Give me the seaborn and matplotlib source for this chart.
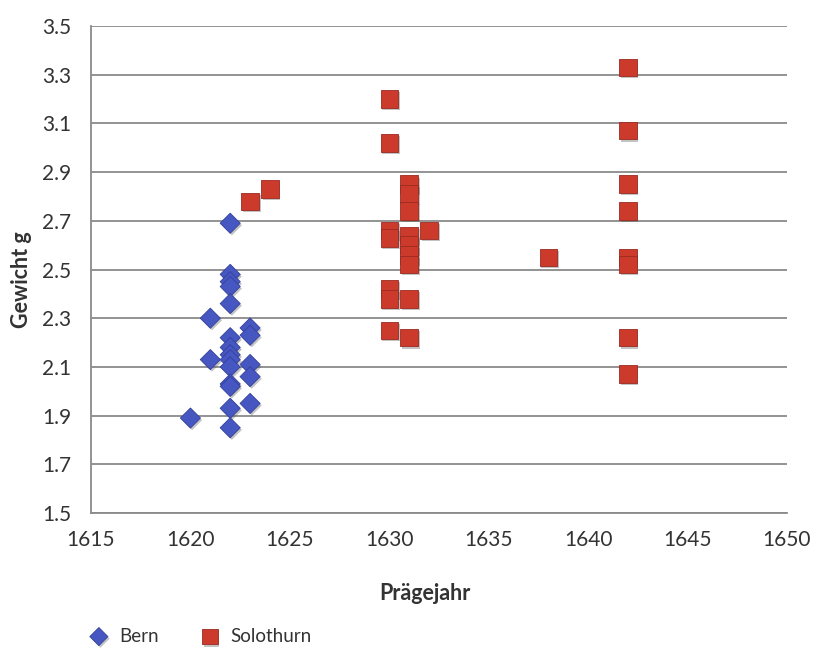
import matplotlib
matplotlib.use("Agg")
import matplotlib.pyplot as plt
import matplotlib.patheffects as pe
import seaborn as sns
import pandas as pd

# ---- data ----
bern_years = [1620, 1621, 1621,
              1622, 1622, 1622, 1622, 1622, 1622, 1622, 1622, 1622, 1622, 1622, 1622, 1622, 1622,
              1623, 1623, 1623, 1623, 1623]
bern_weights = [1.89, 2.30, 2.13,
                2.69, 2.48, 2.45, 2.43, 2.36, 2.22, 2.18, 2.15, 2.13, 2.10, 2.03, 2.02, 1.93, 1.85,
                2.26, 2.23, 2.11, 2.06, 1.95]

solo_years = [1623, 1624,
              1630, 1630, 1630, 1630, 1630, 1630, 1630,
              1631, 1631, 1631, 1631, 1631, 1631, 1631, 1631, 1631,
              1632, 1638,
              1642, 1642, 1642, 1642, 1642, 1642, 1642, 1642]
solo_weights = [2.78, 2.83,
                3.20, 3.02, 2.66, 2.63, 2.42, 2.38, 2.25,
                2.85, 2.81, 2.74, 2.64, 2.60, 2.56, 2.52, 2.38, 2.22,
                2.66, 2.55,
                3.33, 3.07, 2.85, 2.74, 2.55, 2.52, 2.22, 2.07]

series_names = ["Bern", "Solothurn"]
x_ticks = [1615, 1620, 1625, 1630, 1635, 1640, 1645, 1650]
y_ticks = [1.5, 1.7, 1.9, 2.1, 2.3, 2.5, 2.7, 2.9, 3.1, 3.3, 3.5]

df = pd.DataFrame({
    "Prägejahr": bern_years + solo_years,
    "Gewicht": bern_weights + solo_weights,
    "Ort": [series_names[0]] * len(bern_years) + [series_names[1]] * len(solo_years),
})

sns.set_theme(style="white")
plt.rcParams["font.family"] = ["Lato", "DejaVu Sans"]

fig = plt.figure(figsize=(8.13, 6.48), dpi=100)
ax = fig.add_axes([91 / 813, 1 - 513 / 648, (787 - 91) / 813, (513 - 26) / 648])

palette = {"Bern": "#4657c2", "Solothurn": "#cc3a2c"}
markers = {"Bern": "D", "Solothurn": "s"}
sizes_map = {"Bern": 105, "Solothurn": 160}
edges = {"Bern": "#33409a", "Solothurn": "#9a2a20"}

for name in series_names:
    sub = df[df["Ort"] == name]
    sns.scatterplot(data=sub, x="Prägejahr", y="Gewicht", ax=ax,
                    color=palette[name], marker=markers[name], s=sizes_map[name],
                    edgecolor=edges[name], linewidth=0.6, label=name, zorder=3)

for coll in ax.collections:
    coll.set_path_effects([pe.SimplePatchShadow(offset=(1.2, -1.5), shadow_rgbFace="#555555", alpha=0.35),
                           pe.Normal()])

ax.set_xlim(1615, 1650)
ax.set_ylim(1.5, 3.5)
ax.set_xticks(x_ticks)
ax.set_yticks(y_ticks)
ax.set_xticklabels([str(t) for t in x_ticks])
ax.set_yticklabels([f"{t:.1f}" for t in y_ticks])
ax.tick_params(axis="both", length=0, labelsize=15, colors="#333333")
ax.tick_params(axis="y", pad=14)
ax.tick_params(axis="x", pad=12)

ax.grid(axis="y", color="#8a8a8a", linewidth=1.3)
ax.set_axisbelow(True)
for side in ["top", "right"]:
    ax.spines[side].set_visible(False)
for side in ["left", "bottom"]:
    ax.spines[side].set_color("#8a8a8a")
    ax.spines[side].set_linewidth(1.3)

ax.set_xlabel("")
ax.set_ylabel("")
fig.text(425 / 813, 1 - 593 / 648, "Prägejahr", ha="center", va="center",
         fontsize=15.5, fontweight="bold", color="#333333")
fig.text(22 / 813, 1 - 280 / 648, "Gewicht g", ha="center", va="center",
         rotation=90, fontsize=15.5, fontweight="bold", color="#333333")

handles, labels = ax.get_legend_handles_labels()
ax.get_legend().remove()
fig.legend(handles, labels, loc="center left", bbox_to_anchor=(67 / 813, 1 - 636 / 648),
           ncol=2, frameon=False, fontsize=13.5, handletextpad=0.3, handlelength=1.6,
           columnspacing=1.9, markerscale=0.9, labelcolor="#333333")

fig.savefig("out.png", dpi=100)
